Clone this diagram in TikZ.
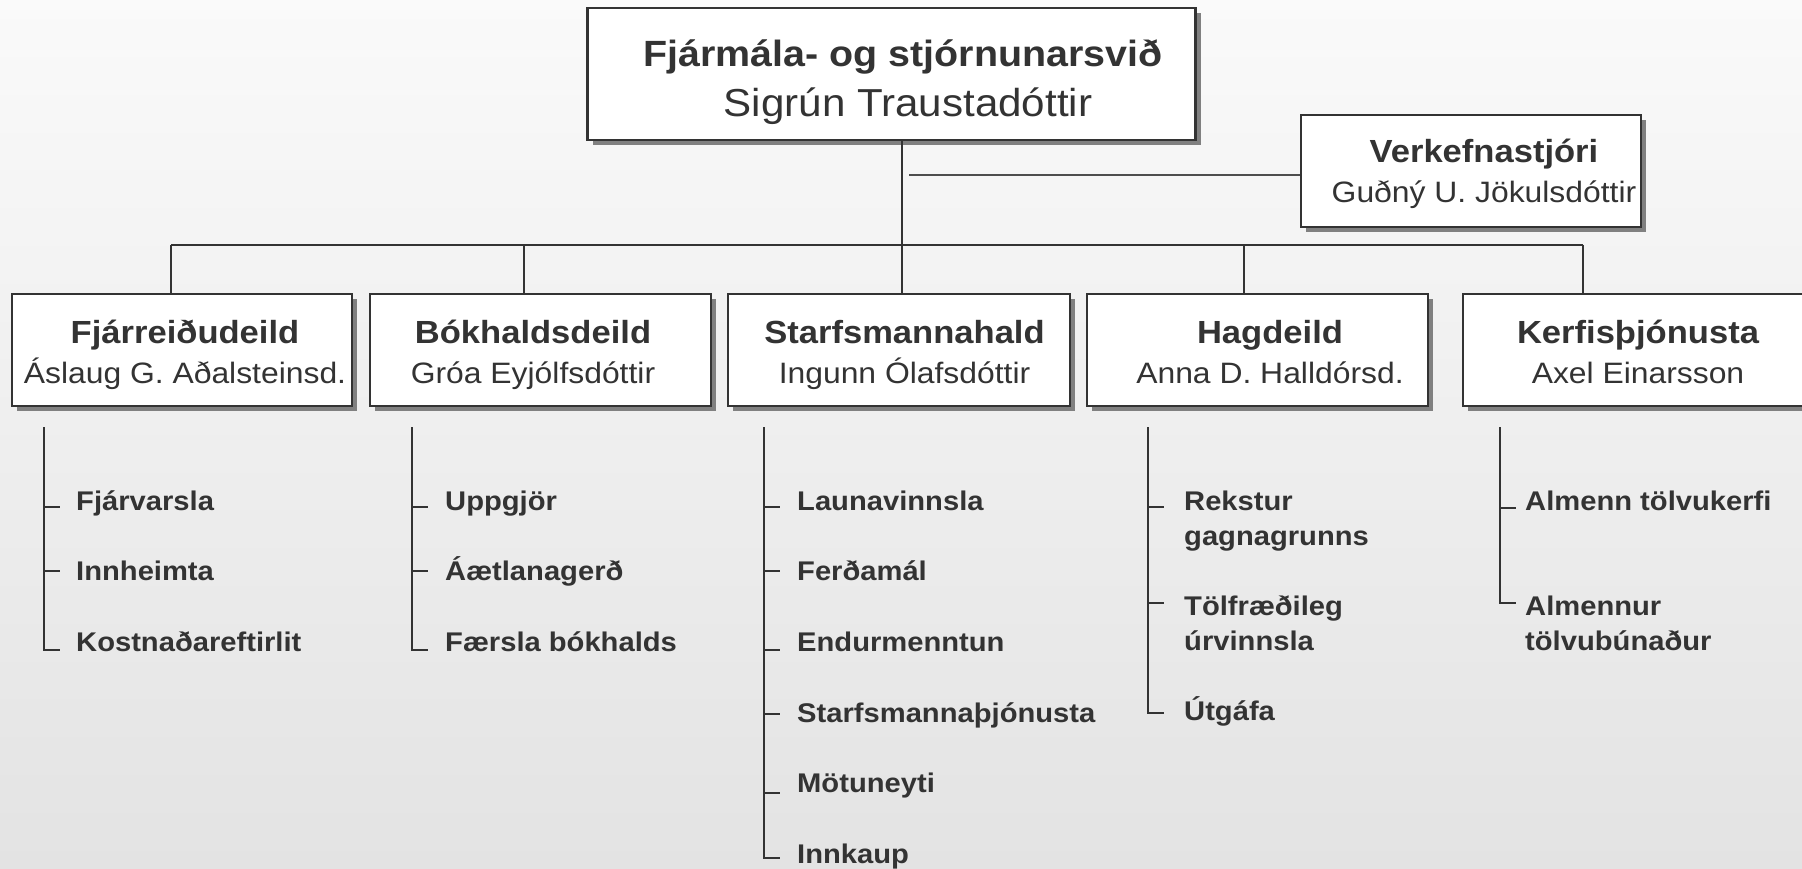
\documentclass[tikz,border=0pt]{standalone}
\usepackage{fontspec}
\setmainfont{Liberation Sans}[FakeStretch=1.08]
\usetikzlibrary{calc,shadows}
\definecolor{ink}{HTML}{333333}
\definecolor{shade}{HTML}{808080}
\definecolor{lineg}{HTML}{4D4D4D}
\definecolor{bgtop}{HTML}{FAFAFA}
\definecolor{bgbot}{HTML}{E3E3E3}
\newcommand\twoline[2]{\begin{tabular}[t]{@{}l@{}}#1\\#2\end{tabular}}
\tikzset{
  box/.style={draw=ink, line width=2.6pt, fill=white, inner sep=0pt,
    drop shadow={shadow xshift=5pt, shadow yshift=-5pt, fill=shade, opacity=1}},
  conn/.style={draw=ink, line width=2.6pt},
  lite/.style={draw=lineg, line width=2.4pt},
  ttl/.style={anchor=base, inner sep=0pt, text=ink, font=\fontsize{32}{38}\selectfont\bfseries},
  nm/.style={anchor=base, inner sep=0pt, text=ink, font=\fontsize{29.5}{35}\selectfont},
  bigttl/.style={anchor=base, inner sep=0pt, text=ink, font=\fontsize{36.5}{42}\selectfont\bfseries},
  bignm/.style={anchor=base, inner sep=0pt, text=ink, font=\fontsize{39}{45}\selectfont},
  item/.style={anchor=base west, inner sep=0pt, text=ink,
    font=\fontsize{27}{35}\selectfont\bfseries},
}
\begin{document}
\begin{tikzpicture}[x=1pt,y=1pt]
\useasboundingbox (0,0) rectangle (1802,-869);
\clip (0,0) rectangle (1802,-869);
\fill[top color=bgtop, bottom color=bgbot] (0,0) rectangle (1802,-869);

% boxes
\node[box, minimum width=608pt, minimum height=132pt] (top) at (891.5,-74) {};
\node[box, minimum width=340pt, minimum height=112pt] (verk) at (1471,-171) {};
\node[box, minimum width=340pt, minimum height=112pt] (fj) at (182,-350) {};
\node[box, minimum width=341pt, minimum height=112pt] (bo) at (540.5,-350) {};
\node[box, minimum width=342pt, minimum height=112pt] (st) at (899,-350) {};
\node[box, minimum width=341pt, minimum height=112pt] (ha) at (1257.5,-350) {};
\node[box, minimum width=341pt, minimum height=112pt] (ke) at (1633.5,-350) {};

% box texts
\node[bigttl] (topt) at (903,-67) {Fjármála- og stjórnunarsvið};
\node[bignm] (topn) at (908,-117) {Sigrún Traustadóttir};
\node[ttl] (verkt) at (1484,-163) {Verkefnastjóri};
\node[nm] (verkn) at (1484,-203) {Guðný U. Jökulsdóttir};
\node[ttl] (fjt) at (185,-343) {Fjárreiðudeild};
\node[nm] (fjn) at (185,-383) {Áslaug G. Aðalsteinsd.};
\node[ttl] (bot) at (533,-343) {Bókhaldsdeild};
\node[nm] (bon) at (533,-383) {Gróa Eyjólfsdóttir};
\node[ttl] (stt) at (904.5,-343) {Starfsmannahald};
\node[nm] (stn) at (904.5,-383) {Ingunn Ólafsdóttir};
\node[ttl] (hat) at (1270,-343) {Hagdeild};
\node[nm] (han) at (1270,-383) {Anna D. Halldórsd.};
\node[ttl] (ket) at (1638,-343) {Kerfisþjónusta};
\node[nm] (ken) at (1638,-383) {Axel Einarsson};

% tree connectors
\coordinate (j1) at (171,-245);
\coordinate (j2) at (524,-245);
\coordinate (j3) at (902,-245);
\coordinate (j4) at (1244,-245);
\coordinate (j5) at (1583,-245);
\draw[conn] (j1) -- (j5);
\draw[conn] (top.south -| j3) -- (j3 |- st.north);
\draw[conn] (j1) -- (j1 |- fj.north);
\draw[conn] (j2) -- (j2 |- bo.north);
\draw[conn] (j4) -- (j4 |- ha.north);
\draw[conn] (j5) -- (j5 |- ke.north);
\coordinate (vk) at (909,-175);
\draw[lite] (vk) -- (vk -| verk.west);

% lists
\coordinate (fjl) at (44,-427);
\node[item] (fj1) at (76,-510) {Fjárvarsla};
\node[item] (fj2) at (76,-580) {Innheimta};
\node[item] (fj3) at (76,-651) {Kostnaðareftirlit};
\draw[conn] (fjl) |- ($(fjl |- fj3.base west)+(16,1)$);
\draw[conn] ($(fjl |- fj1.base west)+(0,3)$) -- ++(16,0);
\draw[conn] ($(fjl |- fj2.base west)+(0,9)$) -- ++(16,0);

\coordinate (bol) at (412,-427);
\node[item] (bo1) at (445,-510) {Uppgjör};
\node[item] (bo2) at (445,-580) {Áætlanagerð};
\node[item] (bo3) at (445,-651) {Færsla bókhalds};
\draw[conn] (bol) |- ($(bol |- bo3.base west)+(16,1)$);
\draw[conn] ($(bol |- bo1.base west)+(0,3)$) -- ++(16,0);
\draw[conn] ($(bol |- bo2.base west)+(0,9)$) -- ++(16,0);

\coordinate (stl) at (764,-427);
\node[item] (st1) at (797,-510) {Launavinnsla};
\node[item] (st2) at (797,-580) {Ferðamál};
\node[item] (st3) at (797,-651) {Endurmenntun};
\node[item] (st4) at (797,-722) {Starfsmannaþjónusta};
\node[item] (st5) at (797,-792) {Mötuneyti};
\node[item] (st6) at (797,-863) {Innkaup};
\draw[conn] (stl) |- ($(stl |- st6.base west)+(16,5)$);
\draw[conn] ($(stl |- st1.base west)+(0,3)$) -- ++(16,0);
\draw[conn] ($(stl |- st2.base west)+(0,9)$) -- ++(16,0);
\draw[conn] ($(stl |- st3.base west)+(0,1)$) -- ++(16,0);
\draw[conn] ($(stl |- st4.base west)+(0,8)$) -- ++(16,0);
\draw[conn] ($(stl |- st5.base west)+(0,-1)$) -- ++(16,0);

\coordinate (hal) at (1148,-427);
\node[item] (ha1) at (1184,-510) {\twoline{Rekstur}{gagnagrunns}};
\node[item] (ha2) at (1184,-615) {\twoline{Tölfræðileg}{úrvinnsla}};
\node[item] (ha3) at (1184,-720) {Útgáfa};
\draw[conn] (hal) |- ($(hal |- ha3.base west)+(16,7)$);
\draw[conn] ($(hal |- ha1.base west)+(0,3)$) -- ++(16,0);
\draw[conn] ($(hal |- ha2.base west)+(0,12)$) -- ++(16,0);

\coordinate (kel) at (1500,-427);
\node[item] (ke1) at (1525,-510) {Almenn tölvukerfi};
\node[item] (ke2) at (1525,-615) {\twoline{Almennur}{tölvubúnaður}};
\draw[conn] (kel) |- ($(kel |- ke2.base west)+(16,12)$);
\draw[conn] ($(kel |- ke1.base west)+(0,2)$) -- ++(16,0);
\end{tikzpicture}
\end{document}
